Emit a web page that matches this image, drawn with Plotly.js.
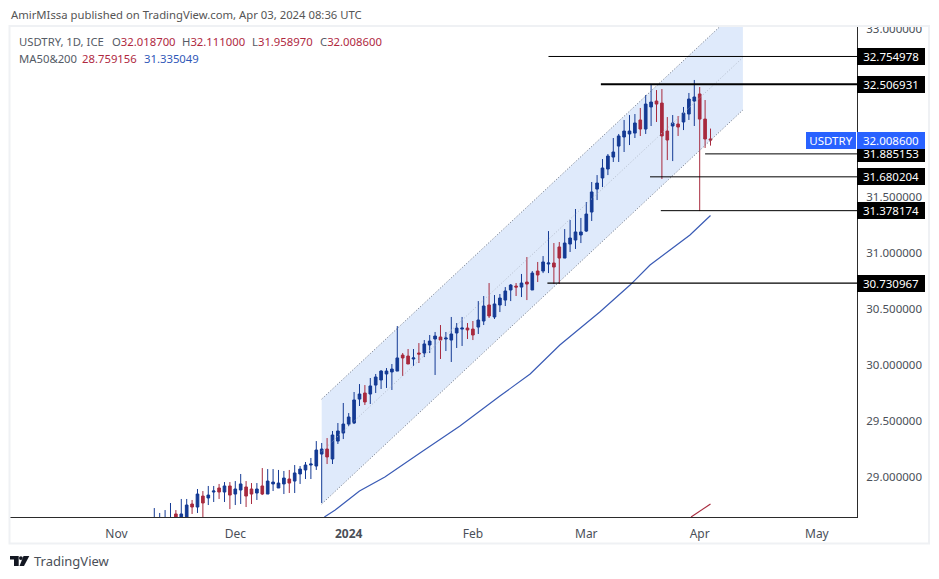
<!DOCTYPE html>
<html>
<head>
<meta charset="utf-8">
<script src="https://cdn.plot.ly/plotly-3.0.1.min.js"></script>
<style>html,body{margin:0;padding:0;background:#fff}#c{width:939px;height:579px}</style>
</head>
<body>
<div id="c"></div>
<script>
// Bar index 0 is the first visible daily candle (mid November 2023)
const opens=[28.55,28.55,28.55,28.55,28.670,28.55,28.60,28.759,28.732,28.830,
28.813,28.866,28.902,28.866,28.920,28.848,28.884,28.911,28.893,28.857,
28.920,28.848,28.938,28.902,28.938,28.982,28.964,29.027,29.063,29.107,
29.098,29.205,29.250,29.161,29.321,29.393,29.473,29.482,29.696,29.750,
29.741,29.821,29.866,29.920,29.938,29.946,30.089,30.080,30.054,30.107,
30.107,30.179,30.232,30.250,30.232,30.223,30.286,30.321,30.330,30.321,
30.339,30.393,30.536,30.429,30.536,30.580,30.670,30.705,30.696,30.741,
30.670,30.839,30.839,30.902,30.911,31.054,30.955,31.080,31.116,31.161,
31.196,31.366,31.571,31.670,31.750,31.857,31.955,32.036,32.063,32.071,
32.188,32.107,32.304,32.357,32.339,32.089,32.134,32.152,32.170,32.241,
32.357,32.420,32.196,32.0187];
const highs=[28.723,28.679,28.705,28.768,28.705,28.804,28.804,28.795,28.893,28.875,
28.920,28.920,28.938,28.955,28.955,28.964,29.027,28.964,28.946,28.946,
29.080,29.071,29.071,29.063,29.054,29.063,29.107,29.098,29.134,29.170,
29.321,29.304,29.348,29.411,29.482,29.661,29.571,29.759,29.830,29.821,
29.884,29.920,29.955,29.973,30.009,30.348,30.107,30.143,30.143,30.196,
30.223,30.268,30.295,30.357,30.295,30.429,30.375,30.429,30.375,30.393,
30.571,30.616,30.732,30.625,30.634,30.696,30.723,30.732,30.813,30.964,
30.839,30.920,30.973,31.196,31.089,31.098,31.214,31.295,31.393,31.313,
31.455,31.634,31.696,31.839,31.884,32.027,32.063,32.188,32.232,32.241,
32.295,32.411,32.509,32.455,32.464,32.214,32.232,32.223,32.304,32.429,
32.545,32.482,32.366,32.111];
const lows=[28.5,28.5,28.5,28.5,28.5,28.5,28.5,28.670,28.679,28.6,
28.750,28.777,28.804,28.777,28.714,28.750,28.759,28.732,28.759,28.795,
28.839,28.848,28.875,28.902,28.848,28.857,28.857,28.938,28.982,28.982,
29.063,28.768,29.116,29.116,29.295,29.339,29.455,29.473,29.634,29.643,
29.652,29.750,29.786,29.795,29.777,29.946,29.902,30.009,29.991,30.018,
30.071,30.107,29.911,30.054,30.125,30.027,30.152,30.170,30.232,30.223,
30.277,30.357,30.420,30.411,30.473,30.527,30.571,30.616,30.607,30.580,
30.670,30.741,30.821,30.821,30.723,30.723,30.955,31.009,31.036,31.089,
31.188,31.286,31.473,31.589,31.696,31.813,31.813,31.902,31.964,32.027,
32.045,32.063,32.134,32.170,31.661,31.830,31.821,32.045,32.098,32.188,
32.134,31.375,31.938,31.95897];
const closes=[28.60,28.60,28.60,28.60,28.60,28.670,28.750,28.732,28.848,28.768,
28.839,28.875,28.866,28.920,28.839,28.893,28.938,28.830,28.848,28.893,
28.848,28.964,28.955,28.946,28.991,28.946,29.036,29.071,29.107,29.116,
29.241,29.250,29.179,29.375,29.411,29.473,29.536,29.688,29.741,29.670,
29.813,29.893,29.946,29.946,29.964,30.063,30.063,30.009,30.063,30.098,
30.188,30.214,30.259,30.223,30.241,30.277,30.330,30.330,30.313,30.268,
30.402,30.527,30.438,30.545,30.598,30.661,30.714,30.696,30.732,30.723,
30.821,30.804,30.920,30.911,30.875,30.955,31.089,31.134,31.188,31.188,
31.348,31.545,31.625,31.759,31.866,31.902,32.045,32.089,32.089,32.161,
32.107,32.330,32.348,32.330,32.045,32.009,32.161,32.125,32.250,32.375,
32.393,32.196,32.018,32.0086];

const channelBars=[31,109];
const channelUpper=[29.696,33.214];
const channelMiddle=[29.228,32.746];
const channelLower=[28.759,32.277];

const ma200Bars=[31.5,33.5,38,42.7,49.2,56.6,64,69.6,75.1,82.5,88.1,91.8,95.5,99.2,103];
const ma200Values=[28.643,28.705,28.875,29.0,29.214,29.455,29.723,29.920,30.179,30.473,30.714,30.893,31.027,31.161,31.335];
const ma50Bars=[99.4,103];
const ma50Values=[28.643,28.759];

const levelValues=[32.754978,32.506931,31.885153,31.680204,31.378174,30.730967];
const levelStarts=[73,82.7,102,91.8,93.8,72.8];
const levelWidths=[1,2.2,1,1,1,1.4];

const monthBars=[-7,15,36,59,80,101,122.7];
const monthLabels=['Nov','Dec','<b>2024</b>','Feb','Mar','Apr','May'];
const priceTicks=[33,31.5,31,30.5,30,29.5,29];
const priceTickLabels=['33.000000','31.500000','31.000000','30.500000','30.000000','29.500000','29.000000'];
const lastPrice=32.0086;

const BLUE='#143a94',RED='#a82a3e',BAND='#dfeafb',XMAX=130.13,XMIN=-26.72;
const W=847,H=491;
const fx=px=>(px-10)/W, fy=py=>(517-py)/H;

const traces=[];
[[channelUpper,'#6b7280'],[channelLower,'#6b7280'],[channelMiddle,'#b3bccb']].forEach(([v,c])=>{
  traces.push({type:'scatter',mode:'lines',x:channelBars,y:v,line:{color:c,width:1,dash:'1px,2px'},hoverinfo:'skip',showlegend:false});
});
traces.push({type:'scatter',mode:'lines',x:ma200Bars,y:ma200Values,line:{color:'#3a5bb5',width:1.2},hoverinfo:'skip',showlegend:false});
traces.push({type:'scatter',mode:'lines',x:ma50Bars,y:ma50Values,line:{color:'#a82a3e',width:1.1},hoverinfo:'skip',showlegend:false});
traces.push({type:'candlestick',x:opens.map((_,i)=>i),open:opens,high:highs,low:lows,close:closes,whiskerwidth:0,
  increasing:{line:{color:BLUE,width:1},fillcolor:BLUE},decreasing:{line:{color:RED,width:1},fillcolor:RED},hoverinfo:'skip',showlegend:false});
levelValues.forEach((v,i)=>{
  traces.push({type:'scatter',mode:'lines',x:[levelStarts[i],XMAX],y:[v,v],line:{color:'#000',width:levelWidths[i]},hoverinfo:'skip',showlegend:false});
});

const FONT='"Noto Sans", sans-serif';
const annotations=[];
const txt=(px,py,text,size,color)=>annotations.push({xref:'paper',yref:'paper',x:fx(px),y:fy(py),xanchor:'left',yanchor:'middle',text,showarrow:false,align:'left',borderpad:0,font:{family:FONT,size,color}});
const GR='#555b66',RV='#b0293f',BV='#3058b8';
txt(10,14,'AmirMIssa published on TradingView.com, Apr 03, 2024 08:36 UTC',11.3,'#555555');
txt(18,41,'USDTRY, 1D, ICE',11.3,GR);
txt(111,41,`O<span style="color:${RV}">32.018700</span>`,11.3,GR);
txt(181,41,`H<span style="color:${RV}">32.111000</span>`,11.3,GR);
txt(250.5,41,`L<span style="color:${RV}">31.958970</span>`,11.3,GR);
txt(319,41,`C<span style="color:${RV}">32.008600</span>`,11.3,GR);
txt(18,59,'MA50&200',11.3,GR);
txt(81,59,'28.759156',11.3,RV);
txt(143,59,'31.335049',11.3,BV);
txt(33,561,'TradingView',13,'#4a4f58');

const tag=(xPx,width,y,text,bg)=>annotations.push({xref:'paper',yref:'y',x:fx(xPx),y,xanchor:'left',yanchor:'middle',width,height:15,text,showarrow:false,bgcolor:bg,borderpad:1,borderwidth:0,align:'center',font:{family:FONT,size:11.5,color:'#fff'}});
levelValues.forEach(v=>tag(857,66,v,v.toFixed(6),'#000'));
tag(857,66,lastPrice,lastPrice.toFixed(6),'#2962ff');
tag(806,48,lastPrice,'USDTRY','#2962ff');

const shapes=[
  // regression channel band, drawn through the data axes, below the candles
  {type:'path',xref:'x',yref:'y',layer:'below',fillcolor:BAND,line:{width:0},
   path:`M${channelBars[0]},${channelUpper[0]} L${channelBars[1]},${channelUpper[1]} L${channelBars[1]},${channelLower[1]} L${channelBars[0]},${channelLower[0]} Z`},
  // outer chart frame
  {type:'rect',xref:'paper',yref:'paper',x0:fx(9.5),x1:fx(929),y0:fy(543.5),y1:fy(26),line:{color:'#eff1f4',width:2},fillcolor:'rgba(0,0,0,0)',layer:'above'},
  // crops the top tick label at the frame edge
  {type:'rect',xref:'paper',yref:'paper',x0:fx(858),x1:fx(926),y0:fy(25),y1:fy(15),line:{width:0},fillcolor:'#fff',layer:'above'},
  // TradingView logo
  {type:'path',xref:'paper',yref:'paper',path:`M${fx(10)},${fy(556)} L${fx(18.7)},${fy(556)} L${fx(18.7)},${fy(566)} L${fx(14)},${fy(566)} L${fx(14)},${fy(559.5)} L${fx(10)},${fy(559.5)} Z`,fillcolor:'#131722',line:{width:0},layer:'above'},
  {type:'circle',xref:'paper',yref:'paper',x0:fx(19),x1:fx(22.8),y0:fy(560),y1:fy(556.2),fillcolor:'#131722',line:{width:0},layer:'above'},
  {type:'path',xref:'paper',yref:'paper',path:`M${fx(23.5)},${fy(556)} L${fx(29.3)},${fy(556)} L${fx(24)},${fy(566)} L${fx(19.5)},${fy(566)} Z`,fillcolor:'#131722',line:{width:0},layer:'above'}
];

const layout={
  width:939,height:579,autosize:false,
  margin:{l:10,r:82,t:26,b:62,pad:0},
  paper_bgcolor:'#fff',plot_bgcolor:'#fff',showlegend:false,hovermode:false,
  xaxis:{type:'linear',range:[XMIN,XMAX],showgrid:false,zeroline:false,showline:true,linecolor:'#2b2b2b',linewidth:1,
    tickmode:'array',tickvals:monthBars,ticktext:monthLabels,ticks:'outside',ticklen:6,tickcolor:'rgba(0,0,0,0)',
    tickfont:{family:FONT,size:12,color:'#4a4f58'},rangeslider:{visible:false},fixedrange:true},
  yaxis:{type:'linear',side:'right',range:[28.643,33.027],showgrid:false,zeroline:false,showline:true,linecolor:'#2b2b2b',linewidth:1,
    tickmode:'array',tickvals:priceTicks,ticktext:priceTickLabels,ticks:'outside',ticklen:6,tickcolor:'rgba(0,0,0,0)',
    tickfont:{family:FONT,size:11.5,color:'#4a4f58'},fixedrange:true},
  annotations,shapes
};
Plotly.newPlot('c',traces,layout,{displayModeBar:false,staticPlot:true});
</script>
</body>
</html>
